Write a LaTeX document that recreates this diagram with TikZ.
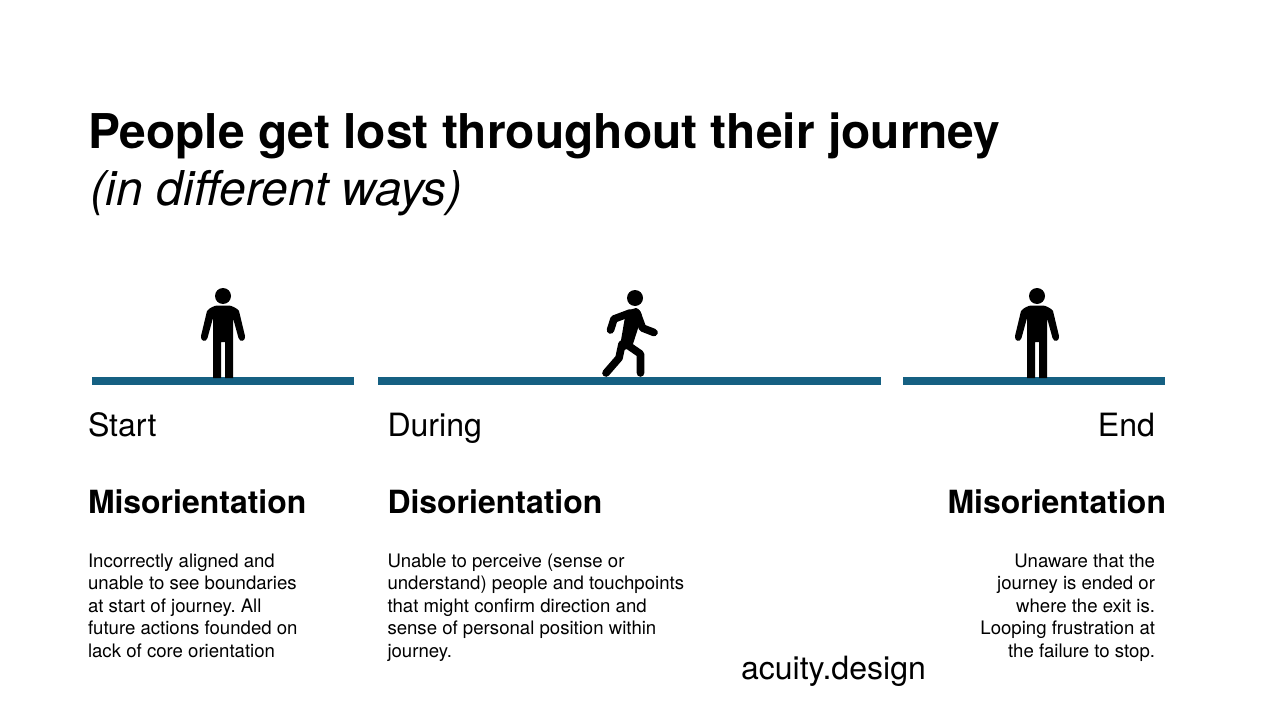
\documentclass[tikz,border=0pt]{standalone}
\usepackage{fontspec}
\setmainfont{TeX Gyre Heros}
\frenchspacing
\newcommand{\fs}[2]{\fontsize{#1}{#2}\selectfont}
\tikzset{
  x=0.75pt,y=-0.75pt,
  txt/.style={inner sep=0pt,outer sep=0pt,text=black},
  title/.style={txt,anchor=base west,font=\fs{35.95}{40}\bfseries},
  subtitle/.style={txt,anchor=base west,font=\fs{36}{40}\itshape},
  stage/.style={txt,font=\fs{24.05}{28}},
  heading/.style={txt,font=\fs{23.95}{28}\bfseries},
  body/.style={txt,font=\fs{13.95}{16.8},anchor=north west,align=left},
  bodyr/.style={txt,font=\fs{13.95}{16.8},anchor=north east,align=right},
  track/.style={fill=trackblue,draw=none},
  limb/.style={line width=5.7pt,line cap=round,line join=round,draw=black},
}
\definecolor{trackblue}{HTML}{156082}
\newcommand{\standman}[1]{%
  \begin{scope}[shift={(#1,0)}]
    \fill (0,296) circle (8);
    \fill (-16,311) .. controls (-14,308) and (-8,305.5) .. (-6,305.5) -- (6,305.5)
       .. controls (8,305.5) and (14,308) .. (16,311)
       -- (22,336) .. controls (23,341) and (17,343) .. (15.5,338)
       -- (10,318) -- (10,378) -- (2,378) -- (2,342) -- (-2,342) -- (-2,378) -- (-10,378) -- (-10,318)
       -- (-15.5,338) .. controls (-17,343) and (-23,341) .. (-22,336) -- cycle;
  \end{scope}}
\begin{document}
\begin{tikzpicture}
\useasboundingbox (0,0) rectangle (1280,720);
\fill[white] (0,0) rectangle (1280,720);
\node[title] (t1) at (88,149) {People get lost throughout their journey};
\node[subtitle] (t2) at (90,206) {(in different ways)};

\fill[track] (92,377) rectangle (354,385);
\fill[track] (378,377) rectangle (881,385);
\fill[track] (903,377) rectangle (1165,385);

\standman{223}
\standman{1037}

% walker
\fill (635,298) circle (8);
\fill (626,311) -- (636,308) .. controls (639,308.5) and (641,312) .. (642,316) -- (632,347) -- (619,352) -- cycle;
\draw[limb] (630,313) -- (614,319) -- (610.5,330);
\draw[limb] (637,313) -- (642.5,328) -- (654,332.5);
\draw[limb] (622,344) -- (619,358) -- (606,373);
\draw[limb] (626,344) -- (640.5,354) -- (640.5,373);

\node[stage,anchor=base west] (s1) at (88,436) {Start};
\node[stage,anchor=base west] (s2) at (387.5,436) {During};
\node[stage,anchor=base east] (s3) at (1155,436) {End};

\node[heading,anchor=base west] (h1) at (88,513) {Misorientation};
\node[heading,anchor=base west] (h2) at (387.5,513) {Disorientation};
\node[heading,anchor=base east] (h3) at (1166,513) {Misorientation};

\node[body] (b1) at (88,554) {Incorrectly aligned and\\unable to see boundaries\\at start of journey. All\\future actions founded on\\lack of core orientation};
\node[body] (b2) at (387.5,554) {Unable to perceive (sense or\\understand) people and touchpoints\\that might confirm direction and\\sense of personal position within\\journey.};
\node[bodyr] (b3) at (1155,554) {Unaware that the\\journey is ended or\\where the exit is.\\Looping frustration at\\the failure to stop.};

\node[stage,anchor=base west] (brand) at (741,679) {acuity.design};
\end{tikzpicture}
\end{document}
